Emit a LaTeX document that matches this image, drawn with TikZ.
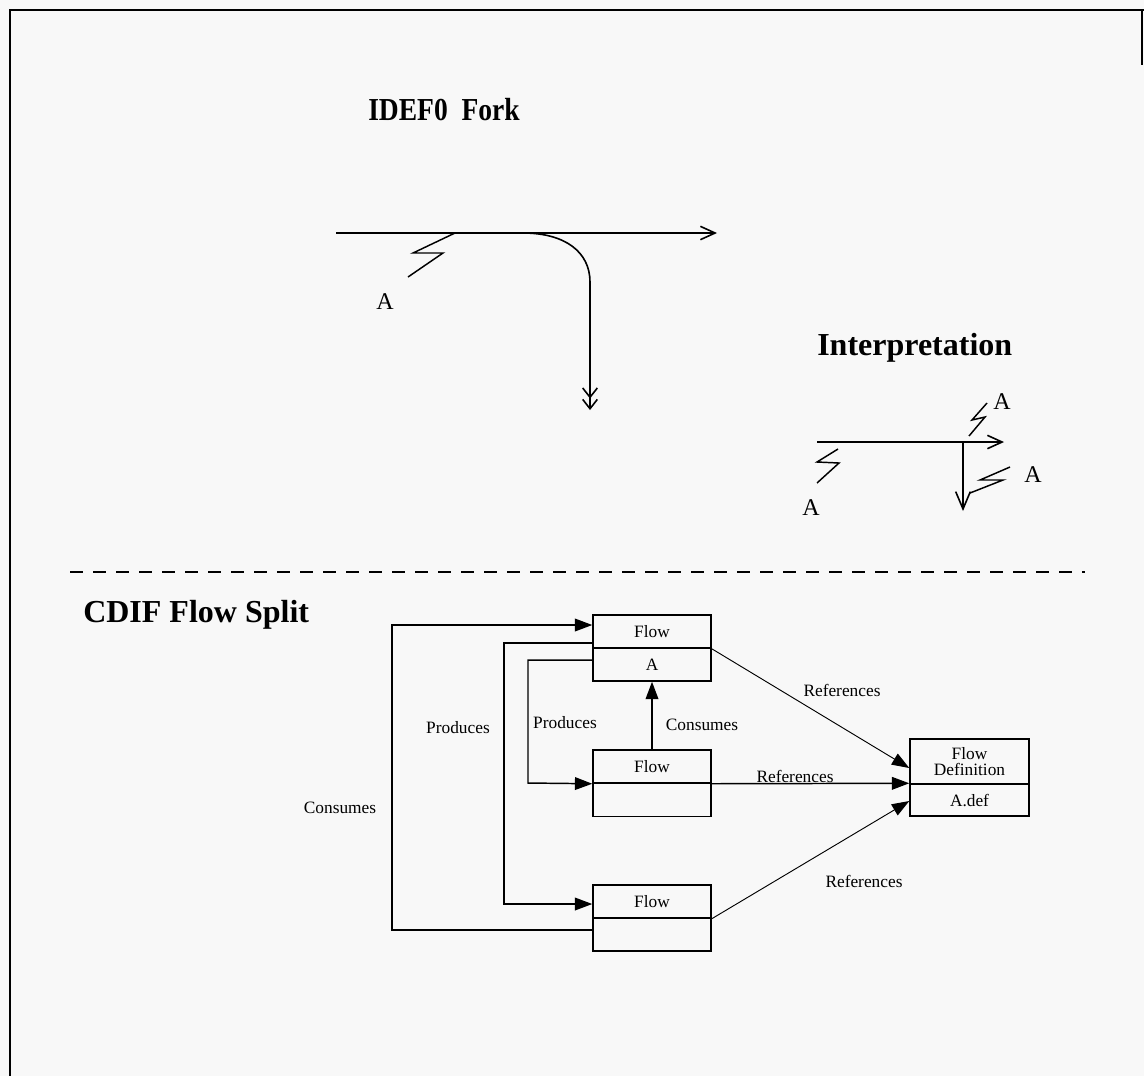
\documentclass[tikz,border=0pt]{standalone}
\usepackage{fontspec}
\setmainfont{Liberation Serif}
\usetikzlibrary{arrows.meta,calc}
\begin{document}
\begin{tikzpicture}[x=0.75pt,y=-0.75pt]
\tikzset{
 ln/.style={line width=1.2pt},
 sq/.style={line width=1.1pt,line join=miter},
 conn/.style={line width=1.1pt,-{Triangle[length=13pt,width=9.5pt]}},
 refl/.style={line width=0.7pt,-{Triangle[length=13pt,width=9.5pt]}},
 fbox/.style={draw,line width=1.1pt,minimum width=88.5pt,minimum height=24.75pt,inner sep=0pt,font=\fontsize{13}{15}\selectfont},
 lbl/.style={font=\fontsize{13}{15}\selectfont,inner sep=0pt},
 ttl/.style={font=\fontsize{24}{27}\selectfont\bfseries,anchor=west,inner sep=0pt},
 alab/.style={font=\fontsize{18}{20}\selectfont,inner sep=0pt},
 barb/.style={-{Straight Barb[length=11pt,width=10pt]}}
}
\definecolor{bg}{HTML}{F8F8F8}
\fill[bg] (0,0) rectangle (1144,1076);
\useasboundingbox (0,0) rectangle (1144,1076);
% frame
\draw[line width=1.5pt] (1144,10) -- (10,10) -- (10,1076);
\draw[line width=1.5pt] (1142,10) -- (1142,65);

% titles
\node[ttl] (t1) at (368,110) {\scalebox{0.86}[1]{IDEF0\ \ Fork}};
\node[ttl] (t2) at (817,348) {Interpretation};
\node[ttl] (t3) at (83,615) {CDIF Flow Split};

% IDEF0 fork
\coordinate (fs) at (336,233);
\coordinate (fe) at (717,233);
\coordinate (fb) at (523,233);
\coordinate (fd) at (590,410);
\draw[ln,barb] (fs) -- (fe);
\draw[ln,-{Straight Barb[length=7pt,width=11pt] Straight Barb[length=7pt,width=11pt]}] (fb) .. controls (565,233) and (590,252) .. (590,282) -- (fd);
\draw[sq] (455,233) -- (413,253) -- (443,253) -- (408,277);
\node[alab] (a1) at (385,302) {A};

% Interpretation
\coordinate (is) at (817,442);
\coordinate (ie) at (1004,442);
\coordinate (ib) at (963,442);
\coordinate (id) at (963,511);
\draw[ln,barb] (is) -- (ie);
\draw[ln,-{Straight Barb[length=13pt,width=11pt]}] (ib) -- (id);
\draw[sq] (838,449) -- (817,462) -- (839,463) -- (817,483);
\node[alab] (a2) at (811,508) {A};
\draw[sq] (969,436) -- (985,417) -- (972,420) -- (987,403);
\node[alab] (a3) at (1002,402) {A};
\draw[sq] (970,493) -- (1003,480) -- (980,480) -- (1010,467);
\node[alab] (a4) at (1033,475) {A};

% dashed separator
\draw[line width=1.5pt,dash pattern=on 9.75pt off 7.5pt] (70,572) -- (1085,572);

% CDIF boxes
\node[fbox] (f1t) at (652,631.5) {Flow};
\node[fbox] (f1b) at (652,664.5) {A};
\node[fbox] (f2t) at (652,766.5) {Flow};
\node[fbox] (f2b) at (652,800) {};
\node[fbox] (f3t) at (652,901.5) {Flow};
\node[fbox] (f3b) at (652,934.5) {};
\node[fbox,minimum width=89.25pt,minimum height=33.75pt,align=center,font=\fontsize{13}{11.5}\selectfont] (dt) at (969.5,761.5) {Flow\\Definition};
\node[fbox,minimum width=89.25pt,minimum height=24pt] (db) at (969.5,800) {A.def};

% connectors
\draw[conn] (f3b.west |- 0,930) -| (392,625) -- (f1t.west |- 0,625);
\draw[conn] (f1t.west |- 0,643) -| (504,904) -- (f3t.west |- 0,904);
\draw[conn] (f1b.west |- 0,660) -| (528,783) -- (f2t.south west);
\draw[conn] (f2t.north) -- (f1b.south);
\draw[refl] (f1t.south east) -- (dt.west |- 0,768);
\draw[conn] (f2t.south east) -- (db.north west);
\draw[refl] (f3t.south east) -- (db.west |- 0,801);

% labels
\node[lbl] (l1) at (340,808) {Consumes};
\node[lbl] (l2) at (458,728) {Produces};
\node[lbl] (l3) at (565,723) {Produces};
\node[lbl] (l4) at (702,725) {Consumes};
\node[lbl] (l5) at (842,690) {References};
\node[lbl] (l6) at (795,776) {References};
\node[lbl] (l7) at (864,881) {References};
\end{tikzpicture}
\end{document}
